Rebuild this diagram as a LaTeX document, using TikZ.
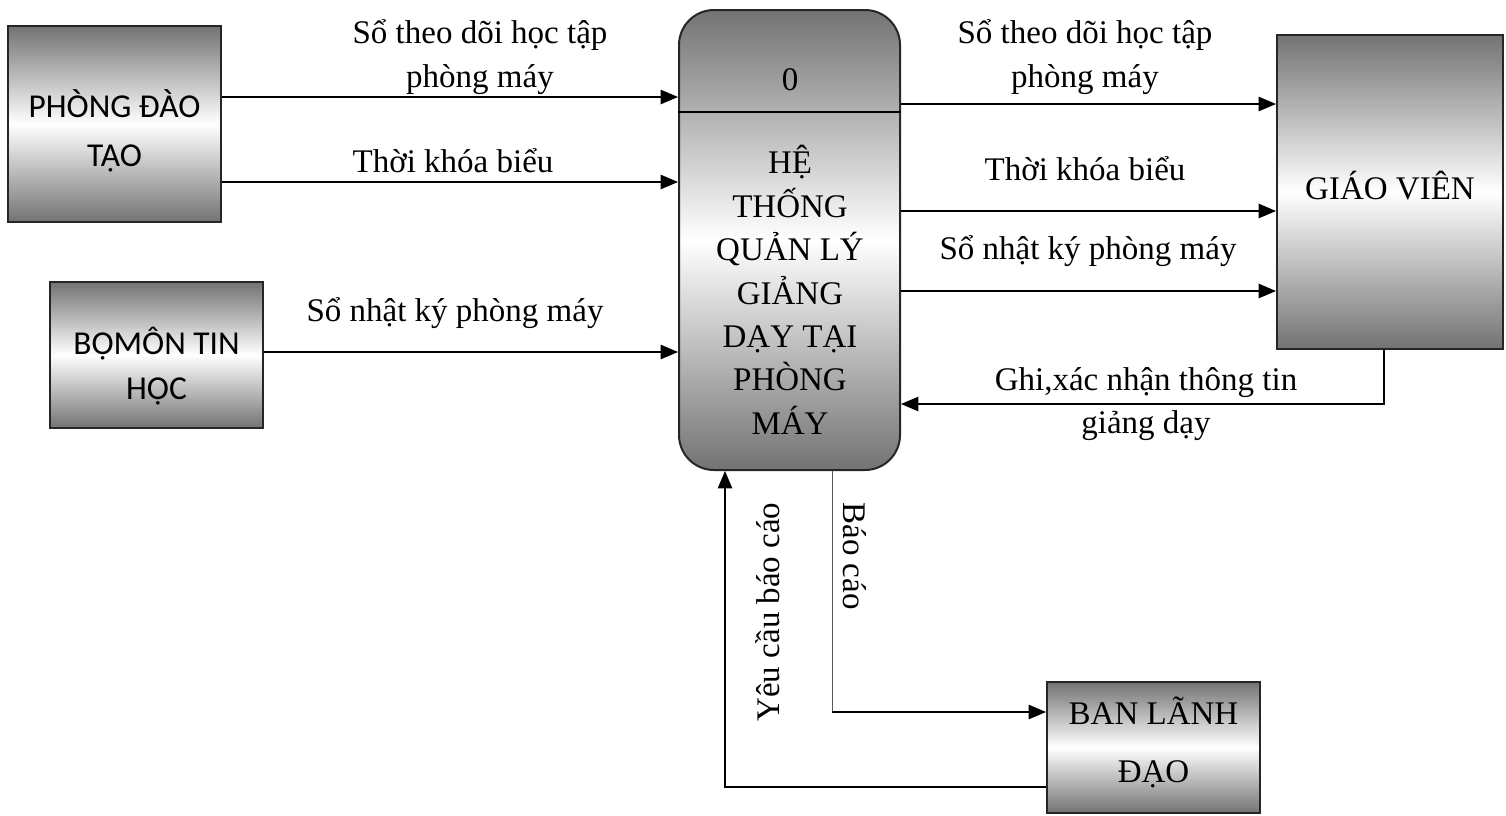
\documentclass[tikz,border=0pt]{standalone}
\usepackage{fontspec}
\setmainfont{Liberation Serif}
\setsansfont{Carlito}
\usetikzlibrary{arrows,positioning}

\tikzset{
  entity/.style={draw=black!85, line width=1pt, top color=black!55, bottom color=black!55, middle color=white, inner sep=0pt},
  etext/.style={align=center, inner sep=0pt},
  flow/.style={->, >=triangle 45, line width=1pt},
  lbl/.style={align=center, inner sep=0pt, font=\fontsize{16.5}{21.7}\selectfont},
}

\begin{document}
\begin{tikzpicture}[x=0.5pt,y=-0.5pt]
    \useasboundingbox (0,0) rectangle (1506,815);
    % external entities
    \node[entity, minimum width=106.5pt, minimum height=98pt] (pdt) at (114.5,124) {};
    \node[etext, font=\sffamily\fontsize{16.7}{24.5}\selectfont] (pdt-txt) at (114.5,131) {PHÒNG ĐÀO\\TẠO};
    \node[entity, minimum width=106.5pt, minimum height=73pt] (bomon) at (156.5,355) {};
    \node[etext, font=\sffamily\fontsize{16.7}{22.5}\selectfont] (bomon-txt) at (156.5,366) {BỘMÔN TIN\\HỌC};
    \node[entity, minimum width=113pt, minimum height=157pt] (gv) at (1390,192) {};
    \node[etext, font=\fontsize{16.5}{21.7}\selectfont] (gv-txt) at (1390,186) {GIÁO VIÊN};
    \node[entity, minimum width=106.5pt, minimum height=65.5pt] (bld) at (1153.5,747.5) {};
    \node[etext, font=\fontsize{16.5}{29}\selectfont] (bld-txt) at (1153.5,742) {BAN LÃNH\\ĐẠO};
    % process
    \node[entity, rounded corners=17.5pt, minimum width=110.5pt, minimum height=230pt] (hethong) at (789.5,240) {};
    \coordinate (div) at (0,112);
    \draw[line width=1pt] (hethong.west |- div) -- (hethong.east |- div);
    \node[lbl] (num) at (790,80) {0};
    \node[lbl] (ten) at (790,290) {HỆ\\THỐNG\\QUẢN LÝ\\GIẢNG\\DẠY TẠI\\PHÒNG\\MÁY};
    % flow levels
    \coordinate (r1) at (0,97);
    \coordinate (r2) at (0,182);
    \coordinate (r3) at (0,352);
    \coordinate (s1) at (0,104);
    \coordinate (s2) at (0,211);
    \coordinate (s3) at (0,291);
    \coordinate (ghi) at (1384,404);
    \coordinate (bc) at (832,712);
    \coordinate (yc) at (725,787);
    % flows
    \draw[flow] (pdt.east |- r1) -- (hethong.west |- r1);
    \draw[flow] (pdt.east |- r2) -- (hethong.west |- r2);
    \draw[flow] (bomon.east |- r3) -- (hethong.west |- r3);
    \draw[flow] (hethong.east |- s1) -- (gv.west |- s1);
    \draw[flow] (hethong.east |- s2) -- (gv.west |- s2);
    \draw[flow] (hethong.east |- s3) -- (gv.west |- s3);
    \draw[flow] (gv.south -| ghi) |- (hethong.east |- ghi);
    \draw[black!65, line width=0.5pt] (hethong.south -| bc) -- (bc);
    \draw[flow] (bc) -- (bld.west |- bc);
    \draw[flow] (bld.west |- yc) -| (hethong.south -| yc);
    % flow labels
    \node[lbl] (l1) at (480,57) {Sổ theo dõi học tập\\phòng máy};
    \node[lbl] (l2) at (453,161) {Thời khóa biểu};
    \node[lbl] (l3) at (455,313) {Sổ nhật ký phòng máy};
    \node[lbl] (l4) at (1085,57) {Sổ theo dõi học tập\\phòng máy};
    \node[lbl] (l5) at (1085,169) {Thời khóa biểu};
    \node[lbl] (l6) at (1088,251) {Sổ nhật ký phòng máy};
    \node[lbl] (l7) at (1146,404) {Ghi,xác nhận thông tin\\giảng dạy};
    \node[lbl, rotate=90] (l8) at (768,612) {Yêu cầu báo cáo};
    \node[lbl, rotate=-90] (l9) at (855,556) {Báo cáo};
\end{tikzpicture}
\end{document}
